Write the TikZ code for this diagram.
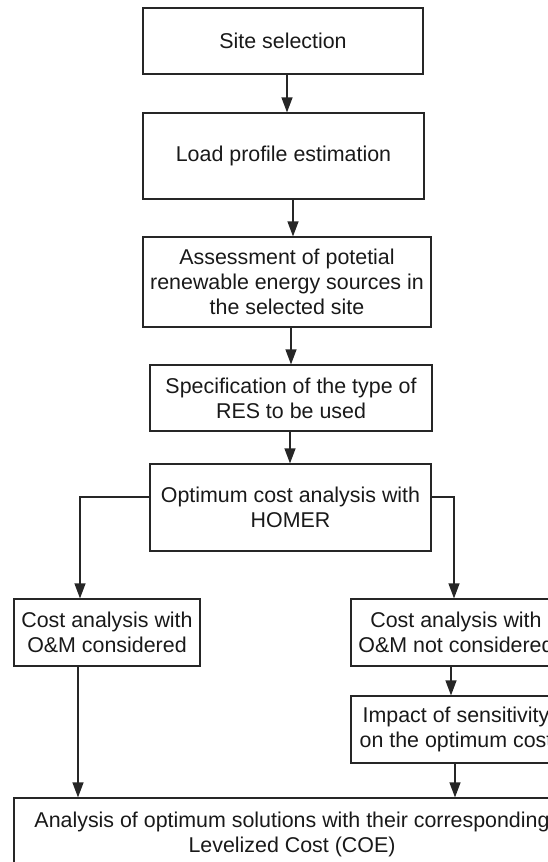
\documentclass[tikz,border=0pt]{standalone}
\usepackage{fontspec}
\setmainfont{Liberation Sans}
\usetikzlibrary{arrows.meta}
\begin{document}
\begin{tikzpicture}[
  x=1pt, y=-1pt,
  stepbox/.style={rectangle, draw=black!85, line width=1.2pt, inner sep=2pt, align=center, text=black!90, font=\fontsize{21.4}{25}\selectfont},
  flow/.style={line width=1.2pt, draw=black!85, -{Triangle[length=15pt, width=11pt]}}
]
  \useasboundingbox (0,0) rectangle (548,862);
  \clip (0,0) rectangle (548,862);

  % Main column
  \node[stepbox, minimum width=280pt, minimum height=66pt] (site) at (283,41) {Site selection};
  \node[stepbox, minimum width=281pt, minimum height=86pt] (load) at (283.5,156) {Load profile estimation};
  \node[stepbox, minimum width=288pt, minimum height=90pt] (assess) at (287,282) {Assessment of potetial\\renewable energy sources in\\the selected site};
  \node[stepbox, minimum width=282pt, minimum height=66pt] (res) at (291,398) {Specification of the type of\\RES to be used};
  \node[stepbox, minimum width=281pt, minimum height=87pt] (homer) at (290.5,507.5) {Optimum cost analysis with\\HOMER};

  % Two branches
  \node[stepbox, minimum width=186pt, minimum height=67pt] (withom) at (107,632.5) {Cost analysis with\\O\&M considered};
  \node[stepbox, minimum width=210pt, minimum height=67pt] (noom) at (456,632.5) {Cost analysis with\\O\&M not considered};
  \node[stepbox, minimum width=210pt, minimum height=67pt] (sens) at (456,729.5) {Impact of sensitivity\\on the optimum cost};

  % Final box
  \node[stepbox, minimum width=556pt, minimum height=72pt] (coe) at (292,834) {Analysis of optimum solutions with their corresponding\\Levelized Cost (COE)};

  % Arrows of the main column
  \draw[flow] ([xshift=4pt]site.south) -- ([xshift=4pt]site.south |- load.north);
  \draw[flow] ([xshift=9.5pt]load.south) -- ([xshift=9.5pt]load.south |- assess.north);
  \draw[flow] ([xshift=4pt]assess.south) -- ([xshift=4pt]assess.south |- res.north);
  \draw[flow] ([xshift=-1pt]res.south) -- ([xshift=-1pt]res.south |- homer.north);

  % Branch arrows
  \draw[flow] ([yshift=10.5pt]homer.west) -| ([xshift=-27pt]withom.north);
  \draw[flow] ([yshift=10.5pt]homer.east) -| ([xshift=-2pt]noom.north);
  \draw[flow] ([xshift=-5pt]noom.south) -- ([xshift=-5pt]noom.south |- sens.north);
  \draw[flow] ([xshift=-29pt]withom.south) -- ([xshift=-29pt]withom.south |- coe.north);
  \draw[flow] ([xshift=-1pt]sens.south) -- ([xshift=-1pt]sens.south |- coe.north);
\end{tikzpicture}
\end{document}
